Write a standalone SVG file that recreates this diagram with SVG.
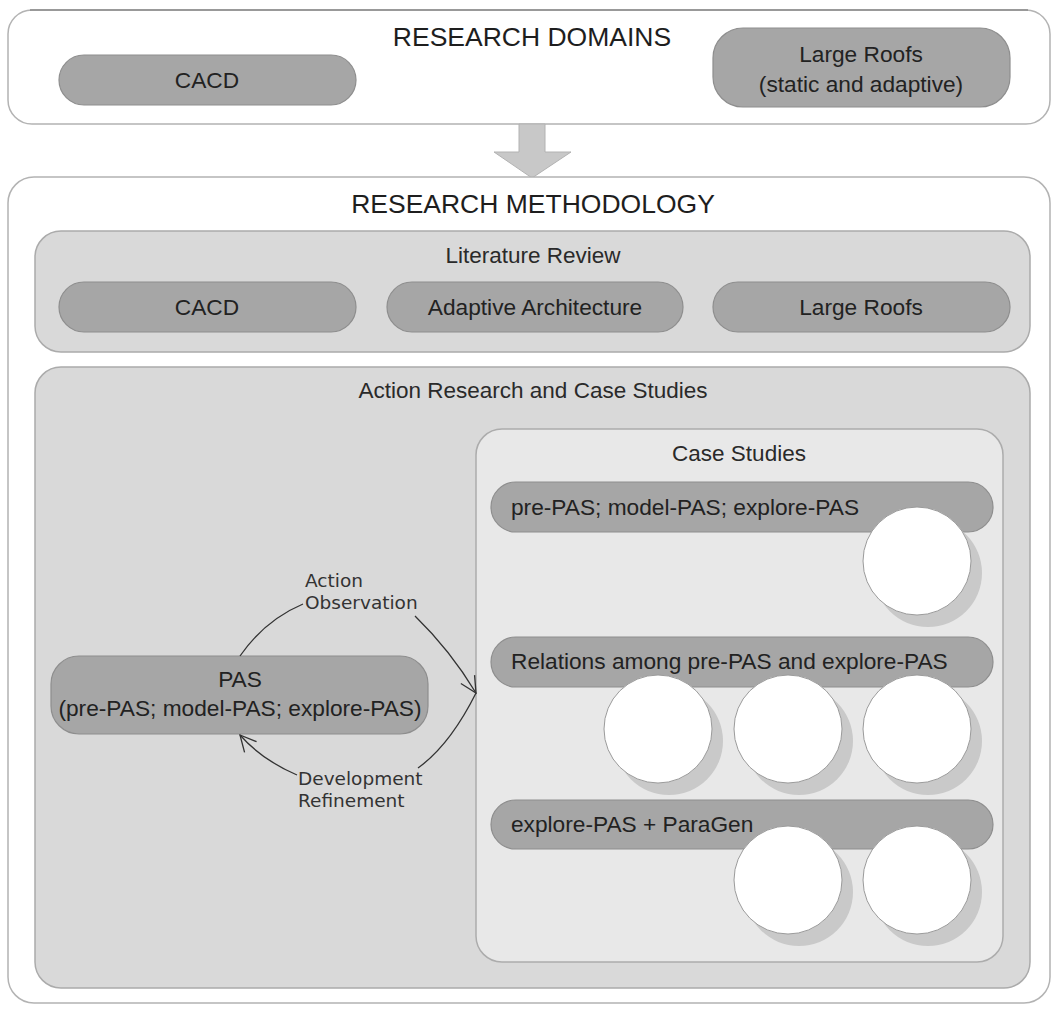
<svg xmlns="http://www.w3.org/2000/svg" width="1052" height="1010" viewBox="0 0 1052 1010">
  <defs>
    <style>
      .frame { fill: #ffffff; stroke: #b3b3b3; stroke-width: 1.5; }
      .panel { fill: #d9d9d9; stroke: #ababab; stroke-width: 1.5; }
      .inner { fill: #e8e8e8; stroke: #acacac; stroke-width: 1.5; }
      .pill { fill: #a6a6a6; stroke: #8e8e8e; stroke-width: 1.2; }
      .disc { fill: #ffffff; stroke: #9a9a9a; stroke-width: 1; }
      .shade { fill: #c9c9c9; }
      .title { font-family: "Liberation Sans", Arial, sans-serif; font-size: 26.5px; fill: #1e1e1e; text-anchor: middle; }
      .head { font-family: "Liberation Sans", Arial, sans-serif; font-size: 22.5px; fill: #2a2a2a; text-anchor: middle; }
      .lbl { font-family: "Liberation Sans", Arial, sans-serif; font-size: 22.7px; fill: #222222; }
      .mid { text-anchor: middle; }
      .note { font-family: "DejaVu Sans", Verdana, sans-serif; font-size: 18.5px; fill: #333333; }
      .flow { fill: none; stroke: #333333; stroke-width: 1.3; }
    </style>
    <marker id="openHead" viewBox="0 0 20 20" refX="18" refY="10" markerWidth="20" markerHeight="20" markerUnits="userSpaceOnUse" orient="auto">
      <path d="M2,2 L18,10 L2,18" fill="none" stroke="#333333" stroke-width="1.3"/>
    </marker>
  </defs>

  <!-- Research domains frame -->
  <g id="research-domains">
    <rect class="frame" x="8" y="10" width="1042" height="114" rx="24"/>
    <line x1="30" y1="10" x2="1028" y2="10" stroke="#8a8a8a" stroke-width="1.5"/>
    <text class="title" x="532" y="46">RESEARCH DOMAINS</text>
  </g>
  <g id="domain-cacd">
    <rect class="pill" x="59" y="55" width="297" height="50" rx="25"/>
    <text class="lbl mid" x="207" y="88">CACD</text>
  </g>
  <g id="domain-large-roofs">
    <rect class="pill" x="713" y="28" width="297" height="79" rx="30"/>
    <text class="lbl mid" x="861" y="62">Large Roofs</text>
    <text class="lbl mid" x="861" y="92">(static and adaptive)</text>
  </g>

  <!-- Block arrow between the two frames -->
  <g id="domain-to-method">
    <path d="M519,124 L545,124 L545,152 L571,152 L532,178 L494,152 L519,152 Z" fill="#c8c8c8" stroke="#b2b2b2" stroke-width="1"/>
  </g>

  <!-- Research methodology frame -->
  <g id="research-methodology">
    <rect class="frame" x="8" y="177" width="1042" height="826" rx="26"/>
    <text class="title" x="533" y="213">RESEARCH METHODOLOGY</text>
  </g>

  <g id="literature-review">
    <rect class="panel" x="35" y="231" width="995" height="121" rx="26"/>
    <text class="head" x="533" y="263">Literature Review</text>
  </g>
  <g id="lit-cacd">
    <rect class="pill" x="59" y="282" width="297" height="50" rx="25"/>
    <text class="lbl mid" x="207" y="315">CACD</text>
  </g>
  <g id="lit-adaptive">
    <rect class="pill" x="387" y="282" width="296" height="50" rx="25"/>
    <text class="lbl mid" x="535" y="315">Adaptive Architecture</text>
  </g>
  <g id="lit-large-roofs">
    <rect class="pill" x="713" y="282" width="297" height="50" rx="25"/>
    <text class="lbl mid" x="861" y="315">Large Roofs</text>
  </g>

  <g id="action-research">
    <rect class="panel" x="35" y="367" width="995" height="621" rx="26"/>
    <text class="head" x="533" y="398">Action Research and Case Studies</text>
  </g>

  <g id="pas">
    <rect class="pill" x="51" y="656" width="377" height="78" rx="28"/>
    <text class="lbl mid" x="240" y="687">PAS</text>
    <text class="lbl mid" x="240" y="716">(pre-PAS; model-PAS; explore-PAS)</text>
  </g>

  <g id="case-studies">
    <rect class="inner" x="476" y="429" width="527" height="533" rx="26"/>
    <text class="head" x="739" y="461">Case Studies</text>
  </g>

  <g id="case-row-1">
    <rect class="pill" x="491" y="482" width="502" height="50" rx="25"/>
    <text class="lbl" x="511" y="515">pre-PAS; model-PAS; explore-PAS</text>
    <circle class="shade" cx="928" cy="573" r="54"/>
    <circle class="disc" cx="917" cy="561" r="54"/>
  </g>

  <g id="case-row-2">
    <rect class="pill" x="491" y="637" width="502" height="50" rx="25"/>
    <text class="lbl" x="511" y="669">Relations among pre-PAS and explore-PAS</text>
    <circle class="shade" cx="669" cy="741" r="54"/>
    <circle class="disc" cx="658" cy="729" r="54"/>
    <circle class="shade" cx="799" cy="741" r="54"/>
    <circle class="disc" cx="788" cy="729" r="54"/>
    <circle class="shade" cx="928" cy="741" r="54"/>
    <circle class="disc" cx="917" cy="729" r="54"/>
  </g>

  <g id="case-row-3">
    <rect class="pill" x="491" y="800" width="502" height="49" rx="25"/>
    <text class="lbl" x="511" y="832">explore-PAS + ParaGen</text>
    <circle class="shade" cx="799" cy="892" r="54"/>
    <circle class="disc" cx="788" cy="880" r="54"/>
    <circle class="shade" cx="928" cy="892" r="54"/>
    <circle class="disc" cx="917" cy="880" r="54"/>
  </g>

  <!-- Cycle between PAS and the case studies -->
  <g id="connectors">
    <path class="flow" d="M240,656 Q265,620 303,604"/>
    <path class="flow" d="M415,616 Q450,650 476,693" marker-end="url(#openHead)"/>
    <path class="flow" d="M476,693 Q450,745 418,768"/>
    <path class="flow" d="M297,775 Q262,760 240,735" marker-end="url(#openHead)"/>
    <text class="note" x="305" y="587">Action</text>
    <text class="note" x="305" y="609">Observation</text>
    <text class="note" x="298" y="785">Development</text>
    <text class="note" x="298" y="807">Refinement</text>
  </g>
</svg>
